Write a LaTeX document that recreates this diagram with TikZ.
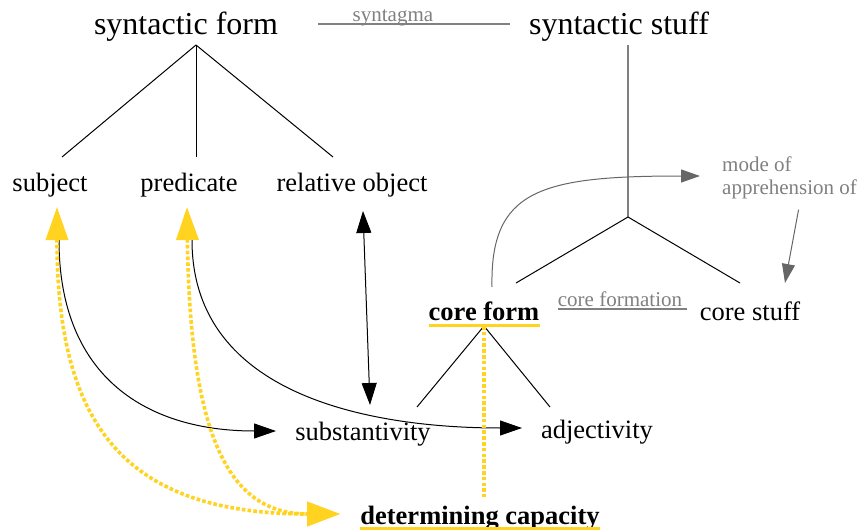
\documentclass[tikz,border=0pt]{standalone}
\usepackage{fontspec}
\setmainfont{Liberation Serif}
\usetikzlibrary{arrows.meta}
\definecolor{capyellow}{HTML}{FFD320}
\definecolor{notegray}{HTML}{808080}
\definecolor{arrowgray}{HTML}{666666}
\tikzset{
  term/.style={inner sep=0pt, anchor=base, font=\fontsize{26.5}{30}\selectfont},
  bigterm/.style={term, font=\fontsize{32}{36}\selectfont},
  note/.style={inner sep=0pt, text=notegray, font=\fontsize{21}{23}\selectfont},
  branch/.style={line width=1pt},
  link/.style={line width=1pt, -{Triangle[length=22pt,width=15pt]}},
  notelink/.style={arrowgray, line width=1pt, -{Triangle[length=19pt,width=13pt]}},
  capline/.style={capyellow, line width=3.6pt, dash pattern=on 3.6pt off 2.2pt},
  caparrow/.style={capline, {Triangle[length=33pt,width=22pt]}-{Triangle[length=33pt,width=24pt]}},
  underl/.style={capyellow, line width=3pt},
}
\begin{document}
\begin{tikzpicture}[x=1pt,y=-1pt]
    \useasboundingbox (0,0) rectangle (865,532);
    % terms
    \node[bigterm] (form) at (186,35) {syntactic form};
    \node[bigterm] (stuff) at (619,35) {syntactic stuff};
    \node[term] (subj) at (50,192) {subject};
    \node[term] (pred) at (189,192) {predicate};
    \node[term] (relobj) at (352,192) {relative object};
    \node[term] (coreform) at (484,320) {\bfseries core form};
    \node[term] (corestuff) at (750,320) {core stuff};
    \node[term] (subst) at (363,440) {substantivity};
    \node[term] (adj) at (597,438) {adjectivity};
    \node[term] (detcap) at (480,524) {\bfseries determining capacity};
    \node[note, anchor=base] (coreformation) at (620,306) {core formation};
    \node[note, align=left, anchor=north west] (mode) at (722,157) {mode of\\apprehension of};
    % junctions
    \coordinate (fa) at ([shift={(10,10)}]form.base);
    \coordinate (sa) at ([shift={(9,10)}]stuff.base);
    \coordinate (sj) at (628,217);
    \coordinate (ca) at ([shift={(0,6)}]coreform.base);
    % syntagma
    \draw[notegray, line width=1.2pt] ([shift={(40,-11)}]form.base east) -- ([shift={(-19,-11)}]stuff.base west)
        node[note, pos=.39, anchor=base, yshift=2pt] (syntagma) {syntagma};
    % tree of syntactic form
    \draw[branch] (fa) -- ([shift={(12,-35)}]subj.base);
    \draw[branch] (fa) -- ([shift={(7,-35)}]pred.base);
    \draw[branch] (fa) -- ([shift={(-19,-35)}]relobj.base);
    % tree of syntactic stuff
    \draw[notegray, line width=1.5pt] (sa) -- (sj);
    \draw[branch] (sj) -- ([shift={(32,-37)}]coreform.base);
    \draw[branch] (sj) -- ([shift={(-10,-37)}]corestuff.base);
    \draw[notegray, line width=1.2pt] ([yshift=-3pt]coreformation.base west) -- ([shift={(5,3)}]coreformation.base east);
    % tree of core form
    \draw[branch] (ca) -- ([shift={(54,-33)}]subst.base);
    \draw[branch] (ca) -- ([shift={(-47,-31)}]adj.base);
    % underlines
    \draw[underl] ([yshift=-5pt]coreform.base west) -- ([yshift=-5pt]coreform.base east);
    \draw[underl] ([yshift=-4pt]detcap.base west) -- ([yshift=-4pt]detcap.base east);
    % links
    \draw[line width=1pt, {Triangle[length=22pt,width=15pt]}-{Triangle[length=22pt,width=15pt]}]
        ([shift={(11,19)}]relobj.base) -- ([shift={(7,-35)}]subst.base);
    \draw[link] ([shift={(9,48)}]subj.base) .. controls (59,380) and (150,431) .. ([shift={(-87,-9)}]subst.base);
    \draw[link] ([shift={(3,48)}]pred.base) .. controls (192,400) and (380,428) .. ([shift={(-75,-10)}]adj.base);
    \draw[notelink] ([shift={(8,-33)}]coreform.base) .. controls (490,190) and (540,176) .. ([shift={(-22,19)}]mode.north west);
    \draw[notelink] ([shift={(9,10)}]mode.south) -- ([shift={(35,-37)}]corestuff.base);
    % determining capacity
    \draw[capline] (ca) -- ([shift={(4,-27)}]detcap.base);
    \draw[caparrow] ([shift={(7,15)}]subj.base) .. controls (57,420) and (120,514) .. ([shift={(-140,-10)}]detcap.base);
    \draw[caparrow] ([shift={(-2,15)}]pred.base) .. controls (190,440) and (230,514) .. ([shift={(-140,-10)}]detcap.base);
\end{tikzpicture}
\end{document}
